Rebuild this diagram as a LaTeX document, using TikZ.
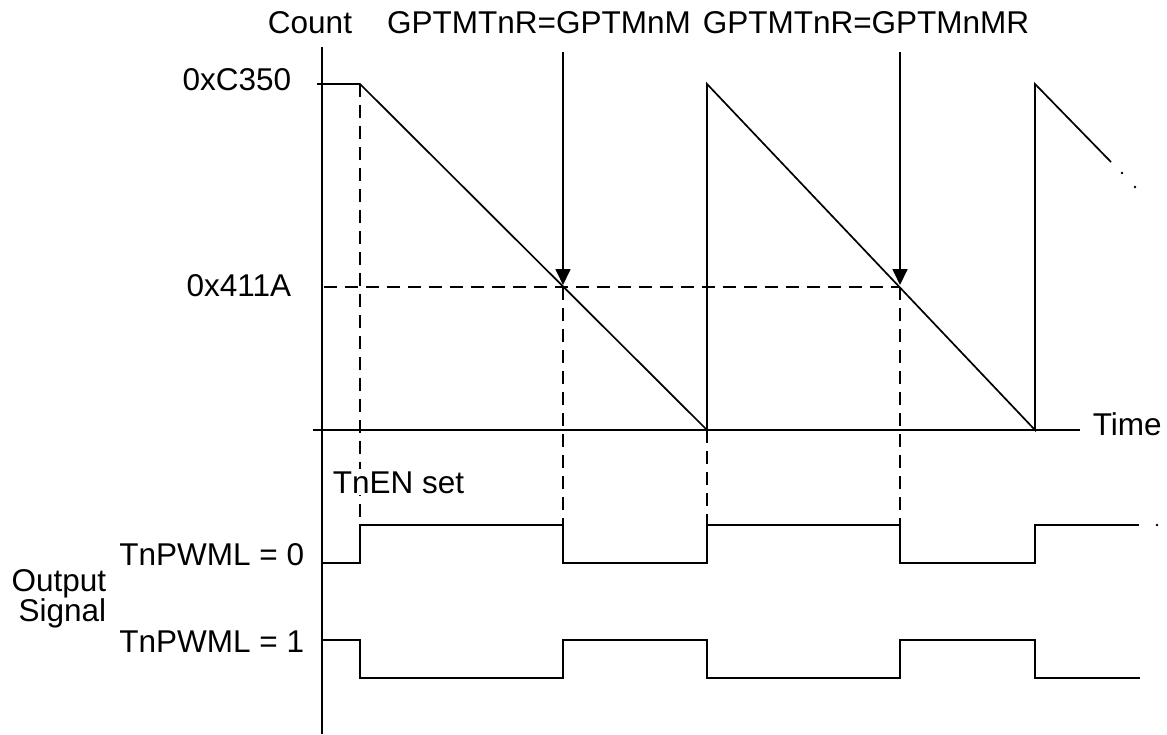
\documentclass[tikz,border=0pt]{standalone}
\usepackage{fontspec}
\setmainfont{Liberation Sans}
\usetikzlibrary{arrows.meta}
\begin{document}
\begin{tikzpicture}[x=1pt,y=-1pt,line width=1.7pt,
  lbl/.style={inner sep=0pt,font=\fontsize{31.5}{28}\selectfont},
  dsh/.style={line width=1.5pt,dash pattern=on 13pt off 8pt},
  arr/.style={-{Triangle[width=15pt,length=16pt]}},
  dotmark/.style={fill=black,draw=none}]
\useasboundingbox (0,0) rectangle (1167,734);
% labels
\node[lbl,anchor=base] (count) at (310,33) {Count};
\node[lbl,anchor=base] (lblm) at (539,33) {GPTMTnR=GPTMnM};
\node[lbl,anchor=base] (lblmr) at (866,33) {GPTMTnR=GPTMnMR};
\node[lbl,anchor=base east] (top) at (292,90) {0xC350};
\node[lbl,anchor=base east] (mid) at (292,296) {0x411A};
\node[lbl,anchor=base west] (time) at (1092,435) {Time};
\node[lbl,anchor=base east] (pw0) at (305,565) {TnPWML = 0};
\node[lbl,anchor=base east] (pw1) at (305,652) {TnPWML = 1};
\node[lbl,anchor=east,align=right] (out) at (107,599) {Output\\Signal};
% coordinates
\coordinate (ytop) at (322,47);
\coordinate (ybot) at (322,734);
\coordinate (xl) at (313,430);
\coordinate (xr) at (1080,430);
\coordinate (c0) at (317,84);
\coordinate (p0) at (360,84);
\coordinate (z1) at (707,430);
\coordinate (t1) at (707,84);
\coordinate (z2) at (1035,430);
\coordinate (t2) at (1035,84);
\coordinate (e3) at (1111,162);
\coordinate (m1) at (563,287);
\coordinate (m2) at (900,287);
\coordinate (a1) at (563,52);
\coordinate (a2) at (900,52);
\coordinate (h0) at (324,287);
\coordinate (s1) at (360,525);
\coordinate (s2) at (563,525);
\coordinate (s3) at (707,525);
\coordinate (s4) at (900,525);
% axes
\draw (ytop) -- (ybot);
\draw (xl) -- (xr);
% sawtooth
\draw (c0) -- (p0) -- (z1) -- (t1) -- (z2) -- (t2) -- (e3);
\fill[dotmark] (1122,173) circle (1.3pt);
\fill[dotmark] (1135,187) circle (1.3pt);
% dashed guides
\draw[dsh] (h0) -- (m2);
\draw[dsh] (p0) -- (s1);
\draw[dsh] (m1) -- (s2);
\draw[dsh] (z1) -- (s3);
\draw[dsh] (m2) -- (s4);
% arrows
\draw[arr] (a1) -- ([yshift=2pt]m1);
\draw[arr] (a2) -- ([yshift=2pt]m2);
% output signals
\draw (322,563) -- (360,563) -- (s1) -- (s2) -- (563,563) -- (707,563) -- (s3) -- (s4) -- (900,563) -- (1035,563) -- (1035,525) -- (1139,525);
\fill[dotmark] (1157,525) circle (1.3pt);
\draw (322,640) -- (360,640) -- (360,678) -- (563,678) -- (563,640) -- (707,640) -- (707,678) -- (900,678) -- (900,640) -- (1035,640) -- (1035,678) -- (1140,678);
% TnEN set label (covers dashed line)
\node[lbl,anchor=base west,fill=white,inner sep=2pt] (tnen) at (330,493) {TnEN set};
\end{tikzpicture}
\end{document}
